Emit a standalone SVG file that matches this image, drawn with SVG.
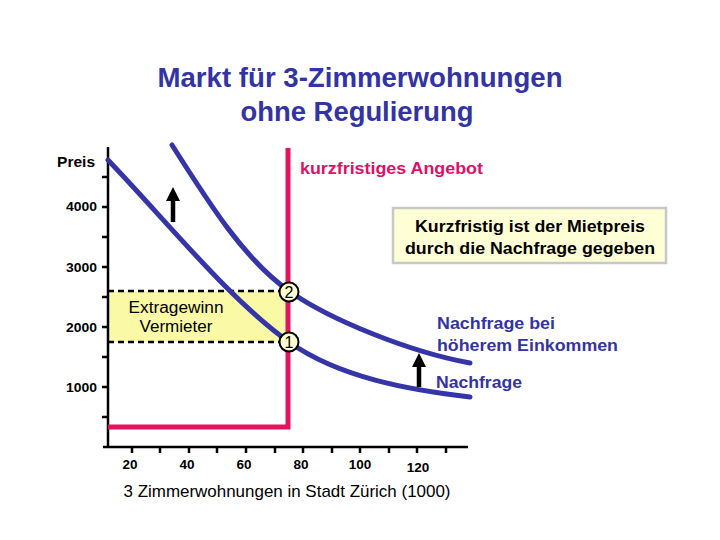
<svg xmlns="http://www.w3.org/2000/svg" width="720" height="540" viewBox="0 0 720 540">
<defs>
<style>
text{font-family:"Liberation Sans",Arial,sans-serif}
.title{font-size:27.5px;font-weight:bold;fill:#3333a6;text-anchor:middle}
.tick{font-size:13.5px;font-weight:bold;fill:#000}
.ylab{text-anchor:end}
.xlab{text-anchor:middle}
.axis{stroke:#000;stroke-width:2.5;fill:none}
.demand{stroke:#3535a8;stroke-width:5;fill:none;stroke-linecap:round}
.supply{stroke:#e0145f;stroke-width:5;fill:none}
.dash{stroke:#000;stroke-width:2.5;stroke-dasharray:6 4;fill:none}
.blue{font-size:17px;font-weight:bold;fill:#3333a6}
.pt{fill:#ffffd0;stroke:#000;stroke-width:2}
.ptt{font-size:16px;fill:#000;text-anchor:middle}
.shift{stroke:#000;stroke-width:4.5;fill:none}
</style>
<marker id="arr" viewBox="0 0 14 14" refX="0" refY="7" markerWidth="14" markerHeight="14" markerUnits="userSpaceOnUse" orient="auto">
<path d="M0,0 L14,7 L0,14 z" fill="#000"/>
</marker>
</defs>
<rect width="720" height="540" fill="#fff"/>
<g id="title">
<text class="title" x="360" y="87" textLength="405" lengthAdjust="spacingAndGlyphs">Markt für 3-Zimmerwohnungen</text>
<text class="title" x="357" y="121" textLength="233" lengthAdjust="spacingAndGlyphs">ohne Regulierung</text>
</g>
<g id="extragewinn">
<rect x="108" y="291" width="180" height="51" fill="#f9f9a6"/>
<text x="176" y="313" font-size="16" text-anchor="middle" textLength="95" lengthAdjust="spacingAndGlyphs">Extragewinn</text>
<text x="176" y="332" font-size="16" text-anchor="middle" textLength="73" lengthAdjust="spacingAndGlyphs">Vermieter</text>
</g>
<g id="axes">
<path class="axis" d="M108,147 V447 M103,447 H468"/>
<path class="axis" d="M102,177 H108 M102,207 H108 M102,237 H108 M102,267 H108 M102,297 H108 M102,327 H108 M102,357 H108 M102,387 H108 M102,417 H108"/>
<path class="axis" d="M132,447 V453 M160,447 V453 M189,447 V453 M217,447 V453 M246,447 V453 M275,447 V453 M303,447 V453 M332,447 V453 M360,447 V453 M389,447 V453 M417,447 V453 M446,447 V453"/>
<text x="95" y="167" font-size="15.5" font-weight="bold" text-anchor="end">Preis</text>
<text class="tick ylab" x="97" y="211" textLength="31" lengthAdjust="spacingAndGlyphs">4000</text>
<text class="tick ylab" x="97" y="272" textLength="31" lengthAdjust="spacingAndGlyphs">3000</text>
<text class="tick ylab" x="97" y="332" textLength="31" lengthAdjust="spacingAndGlyphs">2000</text>
<text class="tick ylab" x="97" y="392" textLength="31" lengthAdjust="spacingAndGlyphs">1000</text>
<text class="tick xlab" x="130" y="469">20</text>
<text class="tick xlab" x="187" y="469">40</text>
<text class="tick xlab" x="244" y="469">60</text>
<text class="tick xlab" x="301" y="469">80</text>
<text class="tick xlab" x="360" y="469">100</text>
<text class="tick xlab" x="418" y="472">120</text>
<text x="287" y="497" font-size="17" text-anchor="middle" textLength="327" lengthAdjust="spacingAndGlyphs">3 Zimmerwohnungen in Stadt Zürich (1000)</text>
</g>
<g id="connectors">
<path class="dash" d="M108,291 H280 M108,342 H280"/>
<path id="angebot" class="supply" d="M288,148 V427 H108"/>
<path id="nachfrage" class="demand" d="M108,160 C170,225 230,300 289,342 C340,378 410,390 470,397"/>
<path id="nachfrage2" class="demand" d="M172,145 C210,205 245,260 289,291 C330,320 410,352 470,363"/>
<path class="shift" d="M173,222 V201" marker-end="url(#arr)"/>
<path class="shift" d="M419,387 V367" marker-end="url(#arr)"/>
</g>
<g id="p2">
<circle class="pt" cx="289" cy="292" r="9.5"/>
<text class="ptt" x="289" y="297.5">2</text>
</g>
<g id="p1">
<circle class="pt" cx="289" cy="342" r="9.5"/>
<text class="ptt" x="289" y="347.5">1</text>
</g>
<g id="label-angebot">
<text x="300" y="174" font-size="16.5" font-weight="bold" fill="#dd1166" textLength="183" lengthAdjust="spacingAndGlyphs">kurzfristiges Angebot</text>
</g>
<g id="note">
<rect x="393" y="208" width="273" height="55" fill="#ffffd6" stroke="#c8c8c8" stroke-width="2.5"/>
<text x="530" y="232" font-size="16" font-weight="bold" text-anchor="middle" textLength="230" lengthAdjust="spacingAndGlyphs">Kurzfristig ist der Mietpreis</text>
<text x="530" y="254" font-size="16" font-weight="bold" text-anchor="middle" textLength="250" lengthAdjust="spacingAndGlyphs">durch die Nachfrage gegeben</text>
</g>
<g id="label-nachfrage2">
<text class="blue" x="437" y="329" textLength="118" lengthAdjust="spacingAndGlyphs">Nachfrage bei</text>
<text class="blue" x="437" y="351" textLength="181" lengthAdjust="spacingAndGlyphs">höherem Einkommen</text>
</g>
<g id="label-nachfrage">
<text class="blue" x="436" y="388" textLength="86" lengthAdjust="spacingAndGlyphs">Nachfrage</text>
</g>
</svg>
